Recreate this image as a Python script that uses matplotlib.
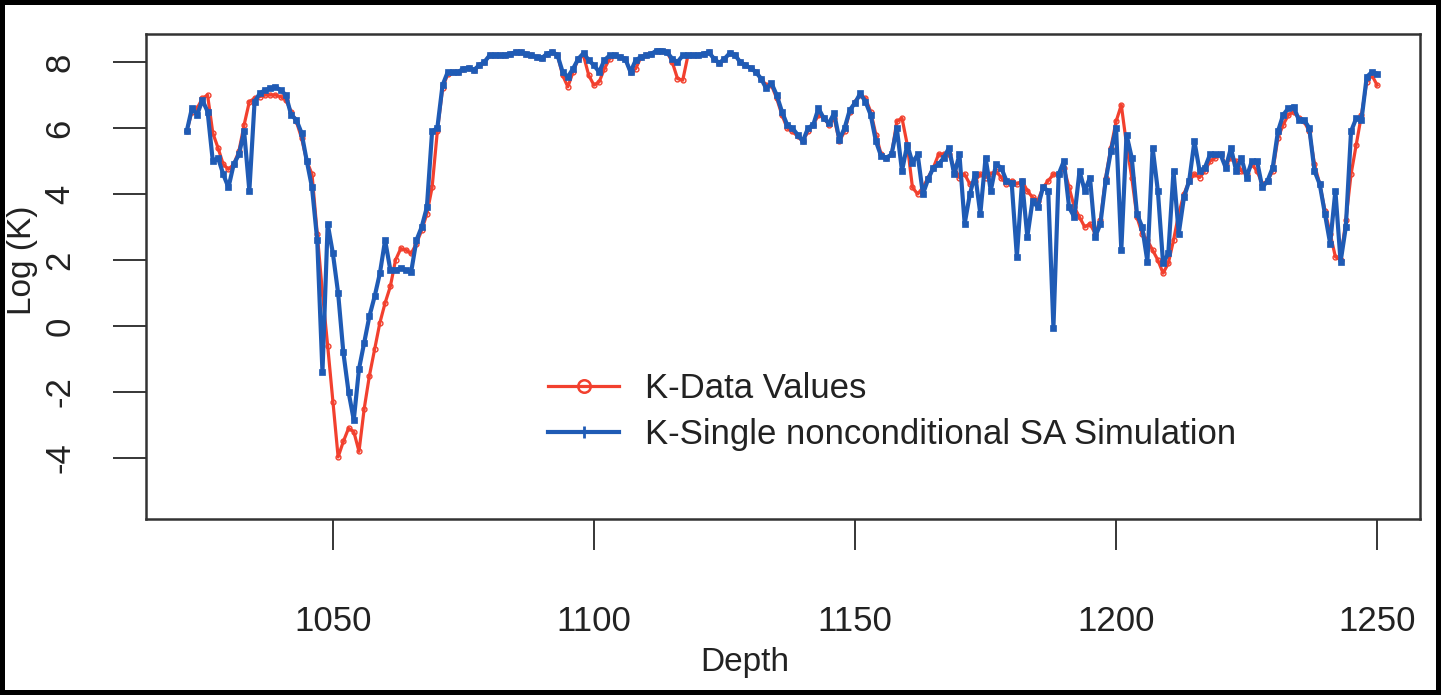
import matplotlib
matplotlib.use("Agg")
import matplotlib.pyplot as plt
from matplotlib.lines import Line2D
import numpy as np

plt.rcParams['font.family'] = ['Liberation Sans', 'DejaVu Sans']
plt.rcParams['axes.unicode_minus'] = False

# sampled depths (one reading per metre)
depth = np.arange(1022, 1251)

# K-Data Values (red)
k_data = [
    5.9, 6.5, 6.6, 6.9, 7.0, 5.85, 5.4, 4.9, 4.75, 4.9,
    5.3, 6.1, 6.8, 6.9, 6.95, 7.0, 7.0, 7.0, 6.95, 6.85,
    6.5, 6.2, 5.7, 5.0, 4.6, 2.8, 1.0, -0.6, -2.3, -3.97,
    -3.5, -3.1, -3.2, -3.8, -2.5, -1.5, -0.7, 0.1, 0.7, 1.2,
    2.0, 2.35, 2.3, 2.2, 2.5, 2.9, 3.4, 4.2, 5.9, 7.2,
    7.65, 7.7, 7.7, 7.8, 7.82, 7.76, 7.9, 8.0, 8.2, 8.2,
    8.2, 8.22, 8.25, 8.3, 8.3, 8.25, 8.2, 8.15, 8.12, 8.25,
    8.3, 8.22, 7.6, 7.25, 7.7, 8.1, 8.2, 7.6, 7.3, 7.4,
    7.8, 8.1, 8.2, 8.15, 8.1, 7.7, 7.8, 8.15, 8.2, 8.25,
    8.35, 8.35, 8.3, 8.0, 7.5, 7.45, 8.2, 8.2, 8.22, 8.25,
    8.3, 8.1, 7.97, 8.1, 8.27, 8.22, 8.0, 7.9, 7.82, 7.7,
    7.5, 7.3, 7.3, 6.9, 6.4, 6.0, 5.9, 5.75, 5.6, 5.9,
    6.1, 6.4, 6.3, 6.1, 6.3, 5.6, 5.9, 6.5, 6.8, 7.0,
    6.9, 6.5, 5.8, 5.2, 5.1, 5.2, 6.2, 6.3, 5.5, 4.2,
    4.0, 4.2, 4.5, 4.8, 5.2, 5.2, 5.2, 4.8, 4.5, 4.6,
    4.3, 4.4, 4.6, 4.5, 4.6, 4.7, 4.5, 4.3, 4.4, 4.3,
    4.4, 4.1, 3.9, 3.8, 4.2, 4.4, 4.6, 4.6, 4.8, 4.2,
    3.6, 3.3, 3.0, 3.1, 2.8, 3.2, 4.5, 5.4, 6.2, 6.7,
    5.5, 4.5, 3.3, 2.8, 2.6, 2.3, 2.0, 1.6, 1.9, 2.6,
    3.4, 4.0, 4.4, 4.6, 4.5, 4.7, 5.0, 5.1, 5.2, 4.9,
    5.1, 5.0, 4.7, 4.6, 4.9, 4.7, 4.3, 4.4, 4.7, 5.7,
    6.1, 6.4, 6.5, 6.3, 6.2, 5.9, 4.9, 4.3, 3.5, 2.8,
    2.1, 2.0, 3.2, 4.6, 5.5, 6.4, 7.4, 7.6, 7.3,
]

# K-Single nonconditional SA Simulation (blue)
k_sim = [
    5.9, 6.6, 6.4, 6.85, 6.5, 5.0, 5.1, 4.6, 4.2, 4.9,
    5.2, 5.9, 4.1, 6.8, 7.05, 7.15, 7.2, 7.25, 7.15, 7.0,
    6.4, 6.25, 5.85, 5.0, 4.2, 2.6, -1.4, 3.1, 2.2, 1.0,
    -0.8, -2.0, -2.85, -1.3, -0.5, 0.3, 0.9, 1.6, 2.6, 1.7,
    1.7, 1.75, 1.7, 1.65, 2.6, 3.0, 3.6, 5.9, 6.0, 7.3,
    7.7, 7.7, 7.7, 7.8, 7.82, 7.76, 7.9, 8.0, 8.2, 8.2,
    8.2, 8.22, 8.25, 8.3, 8.3, 8.25, 8.2, 8.15, 8.12, 8.25,
    8.3, 8.22, 7.7, 7.55, 7.8, 8.1, 8.27, 8.06, 7.9, 7.7,
    8.06, 8.2, 8.2, 8.15, 8.1, 7.7, 8.06, 8.15, 8.2, 8.25,
    8.35, 8.35, 8.3, 8.1, 8.0, 8.2, 8.2, 8.2, 8.22, 8.25,
    8.3, 8.1, 7.97, 8.1, 8.27, 8.22, 8.0, 7.9, 7.82, 7.7,
    7.5, 7.2, 7.36, 7.0, 6.5, 6.1, 6.0, 5.8, 5.6, 6.0,
    6.1, 6.6, 6.3, 6.15, 6.45, 5.65, 6.0, 6.55, 6.76, 7.05,
    6.8, 6.4, 5.6, 5.15, 5.1, 5.2, 6.0, 4.7, 5.5, 4.95,
    5.2, 4.0, 4.45, 4.8, 4.9, 5.1, 5.4, 4.6, 5.2, 3.1,
    4.0, 4.6, 3.4, 5.1, 4.1, 4.9, 4.8, 4.4, 4.35, 2.1,
    4.4, 2.7, 3.8, 3.6, 4.2, 4.1, -0.05, 4.6, 5.0, 3.6,
    3.3, 4.7, 4.1, 4.5, 2.7, 3.1, 4.4, 5.3, 6.0, 2.3,
    5.8, 5.1, 3.4, 3.0, 1.95, 5.4, 4.1, 1.9, 2.2, 4.7,
    2.8, 3.9, 4.4, 5.6, 4.7, 4.8, 5.2, 5.2, 5.2, 4.8,
    5.4, 4.7, 5.1, 4.5, 5.0, 5.0, 4.2, 4.4, 4.8, 5.9,
    6.4, 6.6, 6.65, 6.25, 6.25, 6.0, 4.7, 4.3, 3.4, 2.5,
    4.1, 1.95, 3.0, 5.9, 6.3, 6.25, 7.55, 7.7, 7.65,
]

x_ticks = [1050, 1100, 1150, 1200, 1250]
y_ticks = [-4, -2, 0, 2, 4, 6, 8]

red = '#f2402e'
blue = '#1f5bb5'
txt = '#222222'

fig = plt.figure(figsize=(14.41, 6.95), dpi=100)
fig.patch.set_edgecolor('black')
fig.patch.set_linewidth(7)

ax = fig.add_axes([0.1013, 0.2532, 0.8841, 0.6978])

ax.plot(depth, k_data, c=red, lw=2.3, marker='o', ms=3.5, mfc='none',
    mec=red, mew=1.0, zorder=3)
ax.plot(depth, k_sim, c=blue, lw=3.0, marker='s', ms=5.0, mfc=blue,
    mec=blue, mew=0.5, zorder=4)

ax.set_xlim(1014.2, 1258.2)
ax.set_ylim(-5.85, 8.85)
ax.set_xticks(x_ticks)
ax.set_yticks(y_ticks)

ax.tick_params(axis='x', direction='out', length=22, width=1.1,
    color='black', pad=40, labelsize=25, labelcolor=txt)
ax.tick_params(axis='y', direction='out', length=24, width=1.1,
    color='black', pad=26, labelsize=25, labelcolor=txt)
for lab in ax.get_yticklabels():
    lab.set_rotation(90)
    lab.set_va('center')

for sp in ax.spines.values():
    sp.set_linewidth(1.8)
    sp.set_color('#333333')

fig.text(745 / 1441, 1 - 662 / 695, 'Depth', fontsize=24, color=txt,
    ha='center', va='center')
fig.text(22 / 1441, 1 - 260 / 695, 'Log (K)', fontsize=24, color=txt,
    ha='center', va='center', rotation=90)

handles = [
    Line2D([], [], c=red, lw=2.3, marker='o', ms=9, mfc='none', mec=red,
        mew=1.8),
    Line2D([], [], c=blue, lw=3.0, marker='|', ms=9, mec=blue, mew=2.0),
]
labels = ['K-Data Values', 'K-Single nonconditional SA Simulation']
leg = ax.legend(handles, labels, loc='upper left',
    bbox_to_anchor=(0.3155, 0.303), frameon=False, fontsize=25,
    handlelength=2.05, handletextpad=0.75, labelspacing=0.37,
    borderpad=0.0, borderaxespad=0.0)
for t in leg.get_texts():
    t.set_color(txt)

fig.savefig('out.png', dpi=100, facecolor='white',
    edgecolor=fig.patch.get_edgecolor())
